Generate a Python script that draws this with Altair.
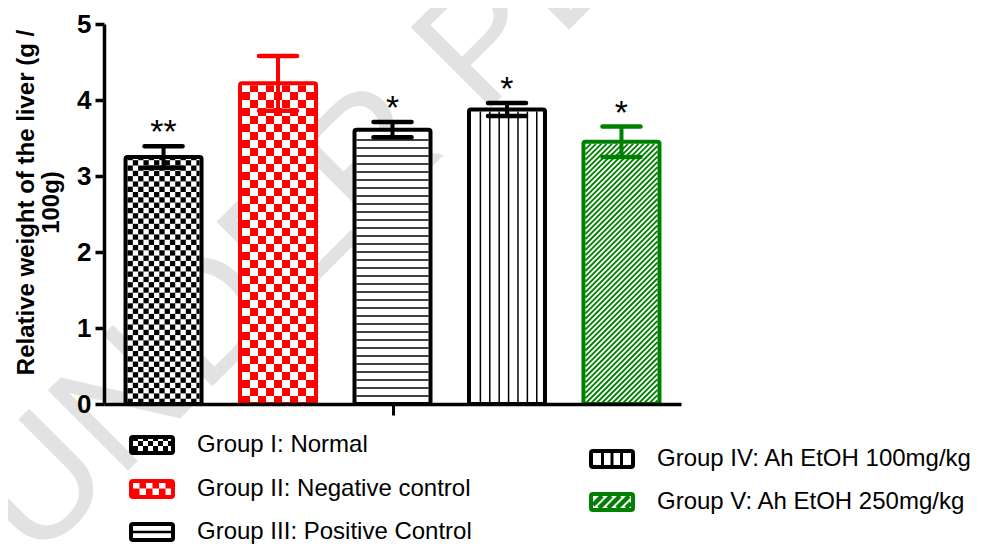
import math
import altair as alt
import pandas as pd

# ---------------- data ----------------
groups = ["Group I: Normal", "Group II: Negative control", "Group III: Positive Control",
          "Group IV: Ah EtOH 100mg/kg", "Group V: Ah EtOH 250mg/kg"]
means = [3.25, 4.22, 3.61, 3.875, 3.45]
errors = [0.14, 0.36, 0.10, 0.085, 0.20]
stars = ["**", "", "*", "*", "*"]
colors = ["#000000", "#ff0000", "#000000", "#000000", "#008000"]
y_ticks = [0, 1, 2, 3, 4, 5]
y_title = ["Relative weight of the liver (g /", "100g)"]
watermark = "UNDER PEER REVIEW"

# ---------------- layout / style ----------------
W, H = 577, 380
PAD_L, PAD_T = 96, 16
TOTAL_H = 538
X_DOM = [-0.52, 4.52]
XU = W / (X_DOM[1] - X_DOM[0])      # px per x unit
YU = H / 5.0                         # px per y unit
PLOT_LEFT = 8 + PAD_L
PLOT_BOTTOM = 8 + PAD_T + H
FONT = "Liberation Sans"

BAR_HALF_PX = 38
STROKE = 4
CAP_HALF_PX = 19

BAR_STYLE = [("checker", 5.3, 0), ("checker", 8.0, 0), ("hlines", 8.0, 1.4),
             ("vlines", 9.4, 1.5), ("diag", 5.3, 1.8)]
LEG_STYLE = [("checker", 5.0, 0), ("checker", 6.5, 0), ("hlines", 6.0, 2.5),
             ("vlines", 9.5, 3.0), ("diag", 9.0, 4.5)]
LEG_POS = [(152, 445), (152, 489), (152, 532), (612, 459), (612, 502)]  # page px

rect_rows, seg_rows, bg_rows, outline_rows = [], [], [], []


def add_pattern(kind, s, lw, w, h, X, Y, color):
    if kind == "checker":
        ncol = math.ceil(w / s - 1e-9)
        nrow = math.ceil(h / s - 1e-9)
        for r in range(nrow):
            for q in range(ncol):
                if (r + q) % 2 == 0:
                    rect_rows.append(dict(x=X(q * s), x2=X(min((q + 1) * s, w)),
                                          y=Y(r * s), y2=Y(min((r + 1) * s, h)), color=color))
    elif kind == "hlines":
        k = 1
        while s * k < h - 1:
            seg_rows.append(dict(x=X(0), x2=X(w), y=Y(s * k), y2=Y(s * k), color=color, lw=lw))
            k += 1
    elif kind == "vlines":
        k = 1
        while s * k < w - 1:
            seg_rows.append(dict(x=X(s * k), x2=X(s * k), y=Y(0), y2=Y(h), color=color, lw=lw))
            k += 1
    elif kind == "diag":
        d = -h
        while d < w:
            xa, xb = max(0.0, d), min(w, h + d)
            if xb - xa > 0.5:
                seg_rows.append(dict(x=X(xa), x2=X(xb), y=Y(xa - d), y2=Y(xb - d), color=color, lw=lw))
            d += s


# bars
bar_rows, cap_rows = [], []
for i, (g, m, e, st, c) in enumerate(zip(groups, means, errors, stars, colors)):
    xl, xr = i - BAR_HALF_PX / XU, i + BAR_HALF_PX / XU
    bar_rows.append(dict(idx=i, xl=xl, xr=xr, zero=0.0, mean=m, lo=m - e, hi=m + e, star=st, color=c))
    bg_rows.append(dict(x=xl, x2=xr, y=0.0, y2=m))
    outline_rows.append(dict(x=xl, x2=xr, y=0.0, y2=m, color=c))
    for yv in (m - e, m + e):
        cap_rows.append(dict(x=i - CAP_HALF_PX / XU, x2=i + CAP_HALF_PX / XU, y=yv, color=c))
    w = 2 * (BAR_HALF_PX - STROKE / 2)
    h = m * YU - STROKE / 2
    kind, s, lw = BAR_STYLE[i]
    add_pattern(kind, s, lw, w, h,
                (lambda i: (lambda x: i + (x - w / 2) / XU))(i),
                lambda y: y / YU, c)


# legend
def px2x(px):
    return X_DOM[0] + (px - PLOT_LEFT) / XU


def py2y(py):
    return (PLOT_BOTTOM - py) / YU


leg_text_rows = []
for i, (g, c) in enumerate(zip(groups, colors)):
    cx, cy = LEG_POS[i]
    bg_rows.append(dict(x=px2x(cx - 21), x2=px2x(cx + 21), y=py2y(cy + 8), y2=py2y(cy - 8)))
    outline_rows.append(dict(x=px2x(cx - 21), x2=px2x(cx + 21), y=py2y(cy + 8), y2=py2y(cy - 8), color=c))
    left, bottom = cx - 19, cy + 6
    kind, s, lw = LEG_STYLE[i]
    add_pattern(kind, s, lw, 38, 12,
                (lambda left: (lambda x: px2x(left + x)))(left),
                (lambda bottom: (lambda y: py2y(bottom - y)))(bottom), c)
    leg_text_rows.append(dict(x=px2x(cx + 45), y=py2y(cy), label=g))

bars = pd.DataFrame(bar_rows)
caps = pd.DataFrame(cap_rows)
bg = pd.DataFrame(bg_rows)
outl = pd.DataFrame(outline_rows)
prect = pd.DataFrame(rect_rows)
pseg = pd.DataFrame(seg_rows)
legtxt = pd.DataFrame(leg_text_rows)

xscale = alt.Scale(domain=X_DOM, nice=False, zero=False)
yscale = alt.Scale(domain=[0, 5], nice=False, zero=False)

xaxis = alt.Axis(values=[2], labels=False, title=None, grid=False, tickSize=11, tickWidth=3,
                 tickColor="black", domainColor="black", domainWidth=3.5, zindex=1)
yaxis = alt.Axis(values=y_ticks, format="d", grid=False, tickSize=9, tickWidth=3.5,
                 tickColor="black", domainColor="black", domainWidth=3.5, zindex=1,
                 labelFont=FONT, labelFontSize=26, labelFontWeight="bold", labelColor="black",
                 labelPadding=4, title=y_title, titleFont=FONT, titleFontSize=24,
                 titleFontWeight="bold", titleColor="black", titleAngle=270,
                 titleAlign="center", titleBaseline="middle", titleLineHeight=25,
                 titleX=-78, titleY=178)


def X(field):
    return alt.X(field, type="quantitative", scale=xscale, axis=xaxis)


def Y(field):
    return alt.Y(field, type="quantitative", scale=yscale, axis=yaxis)


wm = alt.Chart(pd.DataFrame({"t": [watermark]})).mark_text(
    font=FONT, fontSize=165, color="#e2e2e2", angle=315, align="left", baseline="middle"
).encode(x=alt.value(-105), y=alt.value(505), text="t:N")

bg_layer = alt.Chart(bg).mark_rect(fill="white", strokeWidth=0).encode(
    x=X("x"), x2="x2:Q", y=Y("y"), y2="y2:Q")

rect_layer = alt.Chart(prect).mark_rect(strokeWidth=0).encode(
    x=X("x"), x2="x2:Q", y=Y("y"), y2="y2:Q",
    fill=alt.Fill("color:N", scale=None))

seg_layer = alt.Chart(pseg).mark_rule().encode(
    x=X("x"), x2="x2:Q", y=Y("y"), y2="y2:Q",
    color=alt.Color("color:N", scale=None), strokeWidth=alt.StrokeWidth("lw:Q", scale=None))

outline_layer = alt.Chart(outl).mark_rect(filled=False, strokeWidth=STROKE, cornerRadius=2,
                                          strokeJoin="round").encode(
    x=X("x"), x2="x2:Q", y=Y("y"), y2="y2:Q",
    color=alt.Color("color:N", scale=None))

err_layer = alt.Chart(bars).mark_rule(strokeWidth=4).encode(
    x=X("idx"), y=Y("lo"), y2="hi:Q",
    color=alt.Color("color:N", scale=None))

cap_layer = alt.Chart(caps).mark_rule(strokeWidth=4.5, strokeCap="round").encode(
    x=X("x"), x2="x2:Q", y=Y("y"),
    color=alt.Color("color:N", scale=None))

star_layer = alt.Chart(bars).mark_text(font=FONT, fontSize=34, baseline="alphabetic", dy=-3,
                                       color="black").encode(
    x=X("idx"), y=Y("hi"), text="star:N")

leg_layer = alt.Chart(legtxt).mark_text(font=FONT, fontSize=24, align="left", baseline="middle",
                                        color="black").encode(
    x=X("x"), y=Y("y"), text="label:N")

chart = alt.layer(wm, bg_layer, rect_layer, seg_layer, outline_layer, err_layer, cap_layer,
                  star_layer, leg_layer).properties(
    width=W, height=H,
    autosize=alt.AutoSizeParams(type="none"),
    padding={"left": PAD_L, "top": PAD_T, "right": 984 - 16 - PAD_L - W,
             "bottom": TOTAL_H - PAD_T - H},
    background="white",
).configure_view(stroke=None)

chart.save("out.html", embed_options={"renderer": "svg", "actions": False})
